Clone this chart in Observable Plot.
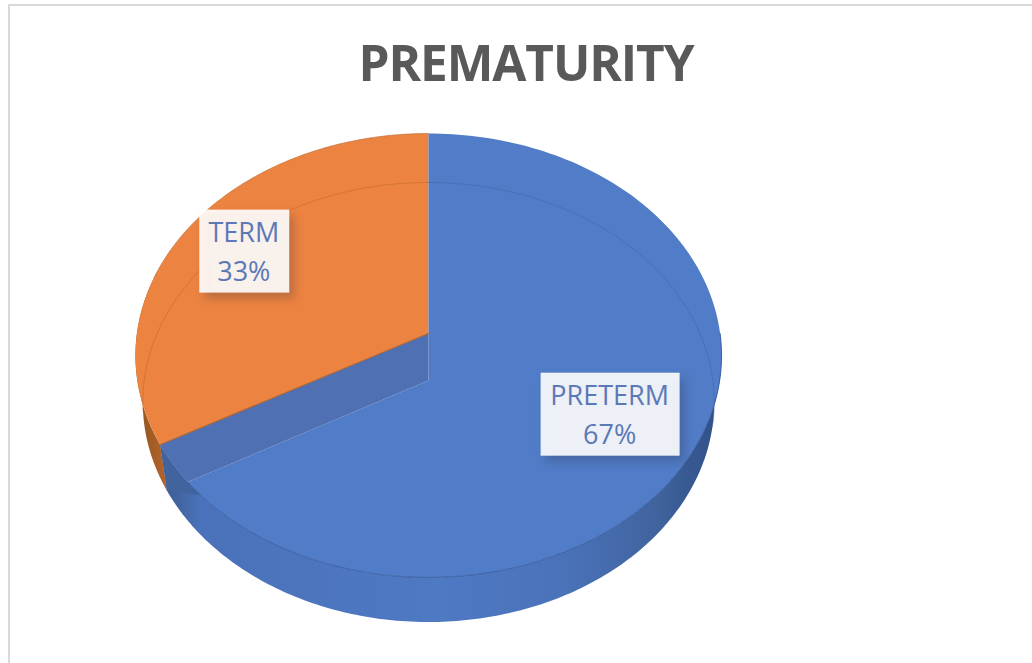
<!DOCTYPE html>
<html><head><meta charset="utf-8">
<script src="https://cdn.jsdelivr.net/npm/d3@7"></script>
<script src="https://cdn.jsdelivr.net/npm/@observablehq/plot@0.6"></script>
<style>
html,body{margin:0;padding:0;background:#fff;overflow:hidden;width:1032px;height:663px}
#frame{position:absolute;left:8px;top:4px;width:1100px;height:760px;border:2.5px solid #d9d9d9;box-sizing:border-box}
#title{position:relative;width:1052px;height:100px;text-align:center;font:700 49.5px/124px "Open Sans",sans-serif;color:#595959;letter-spacing:-1.1px;overflow:hidden}
#chart{position:relative}
svg{display:block}
</style></head><body>
<div id="frame"></div>
<div id="title">PREMATURITY</div>
<div id="chart"></div>
<script>
const categories = ["PRETERM", "TERM"];
const shares = [67, 33];
const topColors = ["#517cc7", "#ed8340"];
const labelRadius = [0.70, 0.76];
const labelColor = "#5b79b6";

// pie geometry, in pixels of the picture
const B = 291.6, A = 219.8, tilt = 0.099, cxPx = 428, cyPx = 233;
const depth = 47 / A, baseX = 0.975, baseY = 0.99;
const rim = (deg, r = 1) => {
  const t = deg * Math.PI / 180, u = r * Math.sin(t), v = r * Math.cos(t), w = 1 + tilt * v;
  return {x: u / w, y: v / w};
};
const base = (deg, r = 1) => {
  const p = rim(deg, r);
  return {x: p.x * baseX, y: p.y * baseY - depth};
};
const arc = (f, a, b, n = 180) => d3.range(n + 1).map(i => f(a + (b - a) * i / n));

const total = d3.sum(shares);
const splitDeg = 360 * shares[0] / total;

// where the wall's lower edge meets the front of the rim
const c0 = base(0, 0), e0 = base(splitDeg);
let crossDeg = splitDeg;
for (let d = splitDeg; d > splitDeg - 40; d -= 0.1) {
  const p = rim(d);
  if ((e0.x - c0.x) * (p.y - c0.y) - (e0.y - c0.y) * (p.x - c0.x) > 0) { crossDeg = d; break; }
}
if (crossDeg === splitDeg) crossDeg = splitDeg - 7;

const blueTop = [rim(0), ...arc(rim, 0, crossDeg), c0];
const orangeTop = [rim(0, 0), rim(0), ...arc(rim, 360, splitDeg)];
const wall = [rim(0, 0), ...arc(rim, splitDeg, crossDeg, 30), c0];
const corner = [rim(splitDeg), base(splitDeg), rim(crossDeg - 4), ...arc(rim, crossDeg - 4, splitDeg, 20)];
const blueSide = [...arc(rim, 90, splitDeg), ...arc(base, splitDeg, 90)];
const orangeSide = [...arc(rim, splitDeg, 285), ...arc(base, 285, splitDeg)];

const mid = [splitDeg / 2, splitDeg + (360 - splitDeg) / 2];
const labels = categories.map((c, i) => {
  const p = rim(mid[i], labelRadius[i]);
  return {text: `${c}\n${shares[i]}%`, x: p.x, y: p.y, hw: (i ? 45 : 69.5) / B, hh: 41.5 / A};
});

function defs() {
  const s = d3.create("svg:defs");
  const g1 = s.append("linearGradient").attr("id", "sideBlue");
  [[0, "#3a5c9c"], [0.03, "#41649f"], [0.07, "#4a72ba"], [0.5, "#4e79c3"], [0.72, "#4a72b9"], [0.88, "#41649f"], [1, "#2f4f86"]]
    .forEach(([o, c]) => g1.append("stop").attr("offset", o).attr("stop-color", c));
  const g2 = s.append("linearGradient").attr("id", "sideOrange");
  [[0, "#8f5320"], [1, "#b5642a"]].forEach(([o, c]) => g2.append("stop").attr("offset", o).attr("stop-color", c));
  return s.node();
}

const poly = (d, fill, extra = {}) => Plot.line(d, {x: "x", y: "y", fill, stroke: "none", curve: "linear", ...extra});

const plot = Plot.plot({
  width: 1032, height: 563, margin: 0,
  style: {background: "transparent"},
  x: {domain: [-1, 1], range: [cxPx - B, cxPx + B], axis: null},
  y: {domain: [-1, 1], range: [cyPx + A, cyPx - A], axis: null},
  marks: [
    defs,
    poly(blueSide, "url(#sideBlue)"),
    poly(orangeSide, "url(#sideOrange)"),
    poly(orangeTop, topColors[1]),
    poly(corner, "#41649f"),
    poly(blueTop, topColors[0]),
    poly(wall, "#4f70b2"),
    // thin rim and base lines
    Plot.line(arc(rim, 90, crossDeg), {x: "x", y: "y", stroke: "#2f5597", strokeWidth: 1, strokeOpacity: 0.8}),
    Plot.line(arc(base, 262, 360), {x: "x", y: "y", stroke: "#b5652c", strokeWidth: 1, strokeOpacity: 0.5}),
    Plot.line(arc(base, 0, 102), {x: "x", y: "y", stroke: "#3f62a6", strokeWidth: 1, strokeOpacity: 0.45}),
    Plot.line(arc(rim, 285, 360), {x: "x", y: "y", stroke: "#b06a35", strokeWidth: 1, strokeOpacity: 0.6}),
    Plot.line([rim(0, 0), rim(splitDeg)], {x: "x", y: "y", stroke: "#a9683a", strokeWidth: 1.2}),
    Plot.rect(labels, {
      x1: d => d.x - d.hw, x2: d => d.x + d.hw, y1: d => d.y - d.hh, y2: d => d.y + d.hh,
      fill: "#fff", fillOpacity: 0.9,
      imageFilter: "drop-shadow(5px 6px 5px rgba(40,40,60,.28))"
    }),
    Plot.text(labels, {
      x: "x", y: "y", text: "text", fill: labelColor, dy: -2.5, dx: -1,
      fontFamily: "Open Sans", fontSize: 27, lineHeight: 1.43, textAnchor: "middle"
    })
  ]
});
document.getElementById("chart").append(plot);
</script>
</body></html>
